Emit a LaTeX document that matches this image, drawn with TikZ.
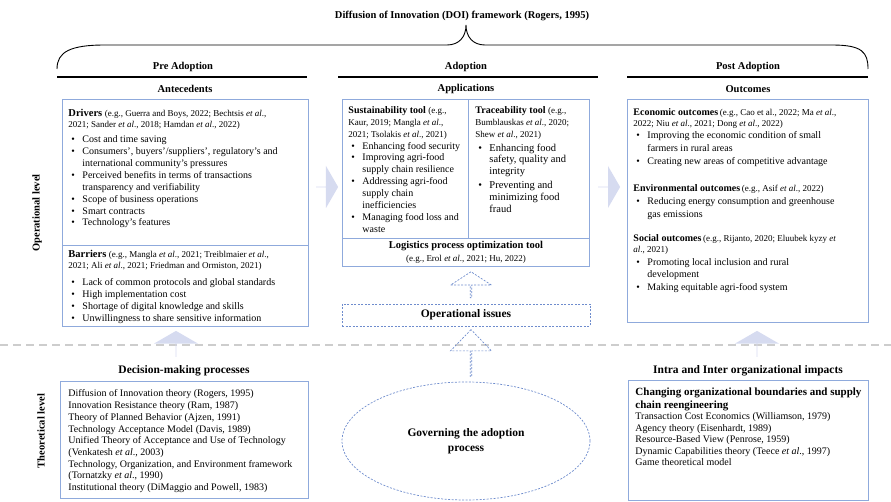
\documentclass[tikz,border=0pt]{standalone}
\usepackage{fontspec}
\setmainfont{Liberation Serif}
\usetikzlibrary{shapes.geometric,shapes.arrows,positioning}

\definecolor{boxblue}{RGB}{143,170,220}
\definecolor{lav}{RGB}{214,219,240}
\definecolor{dashblue}{RGB}{110,140,205}
\definecolor{sepgray}{RGB}{205,205,205}

% bullet line with hanging indent
\newcommand{\itm}[1]{\par\hangindent=14pt\hangafter=1\noindent\hbox to 14pt{\hspace{3pt}\textbullet\hfil}#1}
\newcommand{\ea}{\textit{et al}.}
\newcommand{\cit}[2][9]{{\fontsize{#1}{10}\selectfont #2}}
\newcommand{\fbx}[4]{\parbox[c][#2][t]{#1}{\raggedright\vspace*{#3}#4}}

\begin{document}
\begin{tikzpicture}[x=1pt, y=-1pt,
    box/.style={draw=boxblue, line width=0.9pt, inner xsep=6pt, inner ysep=5pt, anchor=north west},
    hdr/.style={font=\fontsize{10.5}{12}\selectfont\bfseries},
    hline/.style={line width=2.2pt},
    dbox/.style={draw=dashblue, dash pattern=on 2pt off 1.5pt, line width=0.7pt},
    rarrow/.style={single arrow, fill=lav, draw=none, inner sep=0pt, minimum height=22pt, minimum width=42pt, single arrow head extend=10pt, single arrow tip angle=120},
    uarrow/.style={rarrow, shape border rotate=90, minimum height=26pt, minimum width=44pt, single arrow head extend=11pt},
    harrow/.style={single arrow, dbox, inner sep=0pt, shape border rotate=90, minimum width=41pt, single arrow head extend=10pt}
]
\useasboundingbox (0,0) rectangle (891,502);

% title and brace
\node[font=\fontsize{10.5}{12}\selectfont\bfseries] (doi) at (462,16) {Diffusion of Innovation (DOI) framework (Rogers, 1995)};
\draw[line width=0.9pt] (57,69) .. controls (57,52) and (70,45) .. (105,45) -- (447,45)
  .. controls (459,45) and (466,37) .. (466,25) .. controls (466,37) and (473,45) .. (485,45)
  -- (832,45) .. controls (862,45) and (868,52) .. (868,69);

% stage headers
\node[hdr] (pre) at (183,67) {Pre Adoption};
\node[hdr] (ado) at (466,67) {Adoption};
\node[hdr] (post) at (748,67) {Post Adoption};
\draw[hline] (57,77) -- (307,77);
\draw[hline] (338,77) -- (598,77);
\draw[hline] (627,77) -- (868,77);
\node[hdr] (ante) at (185,89) {Antecedents};
\node[hdr] (appl) at (466,89) {Applications};
\node[hdr] (outc) at (748,89) {Outcomes};

% level labels
\node[hdr, rotate=90] (oplev) at (37,213) {Operational level};
\node[hdr, rotate=90] (thlev) at (41,431) {Theoretical level};

% pre adoption
\node[box] (drv) at (62,99) {\fbx{234pt}{136pt}{5pt}{%
  {\fontsize{10}{10.5}\selectfont\noindent{\fontsize{10.5}{10.5}\selectfont\bfseries Drivers} \cit{(e.g., Guerra and Boys, 2022; Bechtsis \ea,\newline 2021; Sander \ea, 2018; Hamdan \ea, 2022)}\par}
  \vspace{3.5pt}\fontsize{10}{11.9}\selectfont
  \itm{Cost and time saving}
  \itm{Consumers', buyers'/suppliers', regulatory's and\newline international community's pressures}
  \itm{Perceived benefits in terms of transactions\newline transparency and verifiability}
  \itm{Scope of business operations}
  \itm{Smart contracts}
  \itm{Technology's features}}};
\node[box] (bar) at (62,245) {\fbx{234pt}{71pt}{0pt}{%
  {\fontsize{10}{10.5}\selectfont\noindent{\fontsize{10.5}{10.5}\selectfont\bfseries Barriers} \cit{(e.g., Mangla \ea, 2021; Treiblmaier \ea,\newline 2021; Ali \ea, 2021; Friedman and Ormiston, 2021)}\par}
  \vspace{5.5pt}\fontsize{10}{11.9}\selectfont
  \itm{Lack of common protocols and global standards}
  \itm{High implementation cost}
  \itm{Shortage of digital knowledge and skills}
  \itm{Unwillingness to share sensitive information}}};

% adoption
\node[box] (sust) at (342,99) {\fbx{114pt}{129pt}{2pt}{\fontsize{10}{11.9}\selectfont
  \noindent\textbf{Sustainability tool} \cit{(e.g.,\newline Kaur, 2019; Mangla \ea,\newline 2021; Tsolakis \ea, 2021)}
  \itm{Enhancing food security}
  \itm{Improving agri-food\newline supply chain resilience}
  \itm{Addressing agri-food\newline supply chain\newline inefficiencies}
  \itm{Managing food loss and\newline waste}}};
\node[box, inner xsep=7pt] (trac) at (468,99) {\fbx{107pt}{129pt}{2pt}{\fontsize{10}{11.9}\selectfont
  \noindent\textbf{Traceability tool} \cit{(e.g.,\newline Bumblauskas \ea, 2020;\newline Shew \ea, 2021)}\par
  \vspace{2pt}\fontsize{10.5}{11.9}\selectfont
  \itm{Enhancing food\newline safety, quality and\newline integrity}\par\vspace{2pt}
  \itm{Preventing and\newline minimizing food\newline fraud}}};
\node[box, anchor=north, minimum width=247pt, minimum height=28pt, inner ysep=2pt, align=center] (logi) at (466,238)
  {{\fontsize{10.5}{12}\selectfont\bfseries Logistics process optimization tool}\\[1pt]\cit{(e.g., Erol \ea, 2021; Hu, 2022)}};

% post adoption
\node[box] (outb) at (627,99) {\fbx{229pt}{213pt}{4.5pt}{%
  {\fontsize{10}{10.3}\selectfont\noindent{\fontsize{10}{10.3}\selectfont\bfseries Economic outcomes}\,\cit{(e.g., Cao et al., 2022; Ma \ea,\newline 2022; Niu \ea, 2021; Dong \ea, 2022)}\par}
  \fontsize{10}{12.7}\selectfont
  \itm{Improving the economic condition of small\newline farmers in rural areas}
  \itm{Creating new areas of competitive advantage}
  \par\vspace{14.8pt}
  {\noindent{\fontsize{10}{10.3}\selectfont\bfseries Environmental outcomes}\,\cit{(e.g., Asif \ea, 2022)}\par}
  \itm{Reducing energy consumption and greenhouse\newline gas emissions}
  \par\vspace{14.3pt}
  {\fontsize{10}{10.5}\selectfont\noindent{\fontsize{10}{10.5}\selectfont\bfseries Social outcomes}\,\cit{(e.g., Rijanto, 2020; Eluubek kyzy \textit{et}\newline \textit{al}., 2021)}\par}
  \itm{Promoting local inclusion and rural\newline development}
  \itm{Making equitable agri-food system}}};

% block arrows between stages
\node[rarrow] (ar1) at (327,187) {};
\node[rarrow] (ar2) at (609,187) {};

% operational issues
\node[harrow, minimum height=26pt, single arrow tip angle=114] (ha1) at (471,285) {};
\node[dbox, minimum width=248pt, minimum height=22pt, font=\fontsize{11.5}{12}\selectfont\bfseries] (opis) at (466,315) {Operational issues};

% level separator
\draw[sepgray, line width=2.2pt, dash pattern=on 8pt off 5pt] (0,345) -- (891,345);

\node[harrow, minimum height=47pt, single arrow tip angle=88] (ha2) at (471,353.5) {};
\node[dbox, ellipse, minimum width=248pt, minimum height=118pt, align=center, font=\fontsize{11.5}{14.5}\selectfont\bfseries] (gov) at (466,441) {Governing the adoption\\process};

% theoretical level
\node[uarrow] (ua1) at (176,344) {};
\node[uarrow] (ua2) at (757,344) {};
\node[hdr, font=\fontsize{11.5}{12}\selectfont\bfseries] (dmp) at (184,371) {Decision-making processes};
\node[hdr, font=\fontsize{11.5}{12}\selectfont\bfseries] (iio) at (748,371) {Intra and Inter organizational impacts};

\node[box, inner xsep=8pt] (thl) at (60,381) {\fbx{232pt}{107pt}{3.5pt}{\fontsize{10}{11.7}\selectfont
  \noindent Diffusion of Innovation theory (Rogers, 1995)\par
  \noindent Innovation Resistance theory (Ram, 1987)\par
  \noindent Theory of Planned Behavior (Ajzen, 1991)\par
  \noindent Technology Acceptance Model (Davis, 1989)\par
  \noindent Unified Theory of Acceptance and Use of Technology\par
  \noindent (Venkatesh \ea, 2003)\par
  \noindent Technology, Organization, and Environment framework\par
  \noindent (Tornatzky \ea, 1990)\par
  \noindent Institutional theory (DiMaggio and Powell, 1983)}};
\node[box, inner xsep=7pt] (thr) at (628,380) {\fbx{226pt}{110pt}{2pt}{%
  {\fontsize{11}{13.3}\selectfont\bfseries\noindent Changing organizational boundaries and supply chain reengineering\par}
  \fontsize{10}{11.5}\selectfont
  \noindent Transaction Cost Economics (Williamson, 1979)\par
  \noindent Agency theory (Eisenhardt, 1989)\par
  \noindent Resource-Based View (Penrose, 1959)\par
  \noindent Dynamic Capabilities theory (Teece \ea, 1997)\par
  \noindent Game theoretical model}};
\end{tikzpicture}
\end{document}
